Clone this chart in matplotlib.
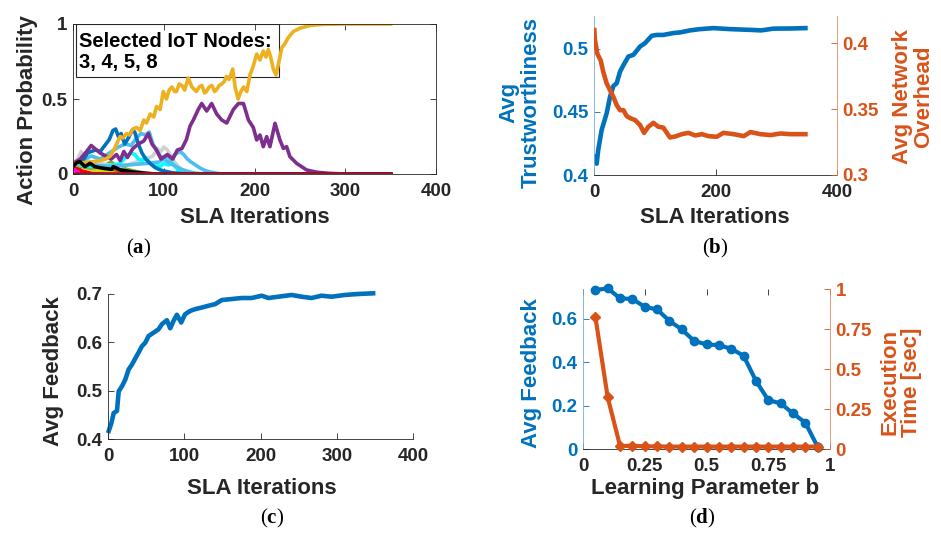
import matplotlib
matplotlib.use("Agg")
import matplotlib.pyplot as plt
from matplotlib.patches import Rectangle

plt.rcParams['font.family'] = ['Liberation Sans', 'DejaVu Sans']
plt.rcParams['font.weight'] = 'bold'
plt.rcParams['axes.labelweight'] = 'bold'
plt.rcParams['mathtext.fontset'] = 'custom'
plt.rcParams['mathtext.rm'] = 'Liberation Serif'
plt.rcParams['mathtext.bf'] = 'Liberation Serif:bold'

# ---------------- data (a): action probabilities per node ----------------
yellow_x = [0, 10, 20, 30, 36, 41, 45, 48, 52, 55, 59, 62, 66, 70, 74, 78, 81, 85, 89, 92, 96, 99.5,
            103, 106, 109, 112, 114, 117, 120, 123, 127, 131, 136, 139, 142, 145, 147, 150, 153, 156,
            158, 161, 164, 167, 169, 172, 176, 178.6, 182, 185, 188, 191.5, 195, 198.7, 202.4, 206,
            209.7, 212.7, 215.2, 217.8, 220.7, 223.7, 227.3, 230, 233.6, 237.3, 242.8, 250, 261, 276,
            300, 350]
yellow_y = [0.07, 0.075, 0.08, 0.09, 0.1, 0.12, 0.16, 0.2, 0.25, 0.24, 0.27, 0.26, 0.3, 0.31, 0.29,
            0.36, 0.34, 0.4, 0.38, 0.45, 0.43, 0.55, 0.5, 0.56, 0.58, 0.55, 0.55, 0.6, 0.59, 0.56, 0.64,
            0.58, 0.55, 0.58, 0.59, 0.54, 0.55, 0.58, 0.59, 0.55, 0.56, 0.59, 0.6, 0.62, 0.65, 0.63,
            0.7, 0.58, 0.5, 0.55, 0.58, 0.55, 0.66, 0.72, 0.8, 0.76, 0.82, 0.78, 0.83, 0.78, 0.7, 0.66,
            0.76, 0.84, 0.87, 0.91, 0.95, 0.972, 0.99, 0.998, 1.0, 1.0]

purple_x = [0, 8, 15, 20, 24, 30, 36, 42, 48, 52, 56, 60, 66, 72, 78, 83, 87, 92, 97, 104, 110, 115,
            120, 125, 129, 132.6, 138, 141.8, 147.3, 152.8, 158.3, 163.9, 169.4, 176.7, 182.3, 187.8,
            193.3, 198.7, 202.4, 206, 209.7, 213.4, 217, 222.6, 228, 231.8, 235.4, 239, 246.4, 257.4,
            268.5, 283, 300, 350]
purple_y = [0.07, 0.1, 0.15, 0.19, 0.17, 0.14, 0.12, 0.1, 0.13, 0.09, 0.15, 0.11, 0.17, 0.2, 0.22,
            0.27, 0.2, 0.16, 0.1, 0.13, 0.1, 0.16, 0.17, 0.23, 0.32, 0.36, 0.43, 0.47, 0.42, 0.47, 0.40,
            0.36, 0.34, 0.43, 0.47, 0.47, 0.36, 0.31, 0.227, 0.26, 0.182, 0.249, 0.182, 0.338, 0.227,
            0.171, 0.182, 0.116, 0.071, 0.027, 0.012, 0.004, 0.0, 0.0]

blue_x = [0, 8, 12, 16, 20, 25, 30, 35, 40, 44, 47, 50, 53, 57, 61, 65, 68, 72, 76, 80, 85, 90, 95,
          100, 110, 120, 130, 350]
blue_y = [0.07, 0.08, 0.1, 0.14, 0.15, 0.16, 0.15, 0.19, 0.23, 0.29, 0.3, 0.25, 0.27, 0.2, 0.24, 0.29,
          0.28, 0.2, 0.14, 0.1, 0.07, 0.045, 0.03, 0.02, 0.008, 0.002, 0.0, 0.0]

lblue1_x = [0, 10, 20, 30, 40, 50, 58, 64, 70, 75, 80, 84, 88, 92, 96, 100, 105, 110, 115, 120, 128,
            135, 145, 350]
lblue1_y = [0.07, 0.09, 0.12, 0.1, 0.14, 0.18, 0.2, 0.19, 0.24, 0.27, 0.26, 0.28, 0.2, 0.16, 0.12, 0.1,
            0.08, 0.06, 0.045, 0.03, 0.015, 0.005, 0.0, 0.0]

lblue2_x = [0, 20, 40, 60, 80, 95, 100, 105, 108, 112, 118, 122, 126, 130, 135, 140, 145, 150, 158,
            165, 350]
lblue2_y = [0.07, 0.06, 0.05, 0.06, 0.07, 0.08, 0.1, 0.12, 0.09, 0.13, 0.15, 0.13, 0.1, 0.08, 0.06,
            0.04, 0.025, 0.015, 0.005, 0.0, 0.0]

gray_x = [0, 5, 9, 13, 20, 30, 40, 50, 60, 70, 80, 88, 93, 97, 100, 104, 108, 112, 116, 120, 126, 135,
          145, 350]
gray_y = [0.07, 0.1, 0.15, 0.1, 0.08, 0.07, 0.06, 0.05, 0.06, 0.08, 0.1, 0.12, 0.17, 0.15, 0.18, 0.16,
          0.12, 0.08, 0.05, 0.03, 0.015, 0.003, 0.0, 0.0]

cyan_x = [0, 15, 30, 45, 52, 56, 60, 64, 68, 72, 76, 80, 84, 90, 96, 100, 105, 110, 113, 116, 120,
          125, 350]
cyan_y = [0.07, 0.05, 0.05, 0.06, 0.07, 0.1, 0.12, 0.14, 0.13, 0.1, 0.09, 0.11, 0.08, 0.06, 0.05,
          0.07, 0.06, 0.07, 0.05, 0.02, 0.005, 0.0, 0.0]

black_x = [0, 4, 7.7, 13.2, 18.7, 24, 33.4, 42.6, 44.4, 52, 66.5, 80, 90, 350]
black_y = [0.05, 0.076, 0.082, 0.049, 0.071, 0.049, 0.038, 0.031, 0.049, 0.027, 0.013, 0.005, 0.0, 0.0]

orange_x = [0, 10, 14, 18, 22, 28, 35, 45, 55, 65, 75, 350]
orange_y = [0.07, 0.06, 0.08, 0.06, 0.075, 0.06, 0.05, 0.03, 0.015, 0.005, 0.0, 0.0]

green_x = [0, 10, 20, 30, 36, 42, 46, 52, 60, 70, 80, 90, 350]
green_y = [0.07, 0.05, 0.04, 0.05, 0.06, 0.08, 0.06, 0.045, 0.03, 0.015, 0.005, 0.0, 0.0]

lime_x = [0, 20, 40, 60, 70, 80, 350]
lime_y = [0.07, 0.03, 0.02, 0.015, 0.005, 0.0, 0.0]

magenta_x = [0, 2, 5, 10, 350]
magenta_y = [0.07, 0.03, 0.01, 0.0, 0.0]

red_x = [0, 5, 10, 20, 30, 350]
red_y = [0.07, 0.04, 0.02, 0.005, 0.0, 0.0]

darkred_x = [0, 350]
darkred_y = [0.0, 0.0]

selected_nodes = "3, 4, 5, 8"

# ---------------- data (b) ----------------
trust_x = [1.6, 4.4, 7, 12.6, 20.9, 26.4, 31.9, 37.4, 42.9, 48.4, 56.6, 64.8, 75.8, 84, 95, 103, 114,
           130.7, 141.7, 158, 174.7, 196.6, 224, 257, 275, 295.6, 323, 348]
trust_y = [0.4145, 0.409, 0.420, 0.4357, 0.449, 0.462, 0.4705, 0.4728, 0.482, 0.487, 0.4939, 0.4952,
           0.5018, 0.5045, 0.5103, 0.511, 0.511, 0.5125, 0.513, 0.5146, 0.5156, 0.5164, 0.5156,
           0.515, 0.5146, 0.516, 0.5161, 0.5164]

overhead_x = [0.5, 1.6, 5.5, 11, 15.4, 20.9, 26.4, 31.9, 37.4, 42.9, 48.4, 53.9, 59.4, 67.6, 75.8,
              82.4, 89.5, 97.8, 106, 114, 125, 133.5, 144.5, 155.5, 166.5, 177.5, 188.5, 202, 213,
              230, 246.5, 257.5, 274, 290.6, 307, 323.5, 348]
overhead_y = [0.410, 0.4023, 0.392, 0.387, 0.378, 0.3695, 0.3644, 0.3593, 0.353, 0.3492, 0.3492,
              0.3447, 0.3432, 0.3417, 0.3379, 0.332, 0.3366, 0.3396, 0.3366, 0.336, 0.3285, 0.3292,
              0.331, 0.332, 0.330, 0.331, 0.3295, 0.329, 0.332, 0.331, 0.3295, 0.3326, 0.331, 0.3303,
              0.3315, 0.331, 0.331]

# ---------------- data (c) ----------------
feedback_x = [1, 4.4, 7.4, 11.8, 14, 18.3, 22.7, 27, 31.4, 35.8, 40, 44.5, 48.9, 53.2, 59.8, 66.3,
              70.7, 77.2, 81.6, 86, 90.3, 96, 101, 107.8, 114.3, 123, 131.8, 140.5, 149.2, 162.3,
              175.4, 188.5, 201.6, 210.3, 223.4, 240.8, 254, 267, 280, 293, 310.6, 328, 347.7]
feedback_y = [0.4167, 0.4326, 0.4535, 0.4583, 0.4986, 0.509, 0.523, 0.5438, 0.554, 0.5667, 0.5785,
              0.592, 0.5993, 0.613, 0.62, 0.627, 0.6375, 0.6458, 0.629, 0.6444, 0.657, 0.641, 0.658,
              0.665, 0.6687, 0.672, 0.6757, 0.679, 0.6875, 0.6896, 0.6917, 0.6917, 0.6965, 0.6917,
              0.6944, 0.698, 0.6944, 0.6917, 0.6965, 0.6944, 0.698, 0.700, 0.7014]

# ---------------- data (d) ----------------
b_values = [0.05, 0.10, 0.15, 0.20, 0.25, 0.30, 0.35, 0.40, 0.45, 0.50, 0.55, 0.60, 0.65, 0.70, 0.75,
            0.80, 0.85, 0.90, 0.95]
b_feedback = [0.731, 0.739, 0.693, 0.690, 0.654, 0.642, 0.589, 0.550, 0.497, 0.481, 0.478, 0.461,
              0.429, 0.314, 0.225, 0.210, 0.164, 0.121, 0.010]
b_exec_time = [0.827, 0.323, 0.019, 0.02, 0.017, 0.016, 0.015, 0.015, 0.015, 0.015, 0.015, 0.015,
               0.015, 0.015, 0.015, 0.015, 0.015, 0.015, 0.015]

# tick values / labels
ticks_a_x = [0, 100, 200, 300, 400]
ticks_a_y = [0, 0.5, 1]
labels_a_y = ['0', '0.5', '1']
ticks_b_x = [0, 200, 400]
ticks_b_yl = [0.4, 0.45, 0.5]
labels_b_yl = ['0.4', '0.45', '0.5']
ticks_b_yr = [0.3, 0.35, 0.4]
labels_b_yr = ['0.3', '0.35', '0.4']
ticks_c_x = [0, 100, 200, 300, 400]
ticks_c_y = [0.4, 0.5, 0.6, 0.7]
labels_c_y = ['0.4', '0.5', '0.6', '0.7']
ticks_d_x = [0, 0.25, 0.5, 0.75, 1]
labels_d_x = ['0', '0.25', '0.5', '0.75', '1']
ticks_d_yl = [0, 0.2, 0.4, 0.6]
labels_d_yl = ['0', '0.2', '0.4', '0.6']
ticks_d_yr = [0, 0.25, 0.5, 0.75, 1]
labels_d_yr = ['0', '0.25', '0.5', '0.75', '1']

# ---------------- styling ----------------
W, H = 941, 537
C_TXT = (0.15, 0.15, 0.15)
C_BLUE = (0.0, 0.447, 0.741)
C_ORANGE = (0.85, 0.325, 0.098)
TICK_FS = 13.5
LAB_FS = 16
BOLD = dict(fontweight='bold', fontsize=TICK_FS)

fig = plt.figure(figsize=(W / 100, H / 100), dpi=100)


def px_axes(l, r, t, b):
    return fig.add_axes([l / W, 1 - b / H, (r - l) / W, (b - t) / H])


def style(ax, top=False, right=False):
    ax.tick_params(direction='in', length=4, width=0.6, colors=C_TXT, labelsize=TICK_FS,
                   top=top, right=right)
    ax.tick_params(axis='x', pad=6.5)
    ax.tick_params(axis='y', pad=4)
    for s in ax.spines.values():
        s.set_color(C_TXT)
        s.set_linewidth(0.6)


# ---------------- panel (a) ----------------
axa = px_axes(73, 436, 24, 174)
style(axa, top=True, right=True)
series = [
    (magenta_x, magenta_y, (1, 0, 1)),
    (red_x, red_y, (1, 0, 0)),
    (lime_x, lime_y, (0.85, 0.85, 0.0)),
    (orange_x, orange_y, C_ORANGE),
    (green_x, green_y, (0.466, 0.674, 0.188)),
    (gray_x, gray_y, (0.82, 0.82, 0.82)),
    (cyan_x, cyan_y, (0, 1, 1)),
    (lblue2_x, lblue2_y, (0.301, 0.745, 0.933)),
    (lblue1_x, lblue1_y, (0.301, 0.745, 0.933)),
    (blue_x, blue_y, C_BLUE),
    (purple_x, purple_y, (0.494, 0.184, 0.556)),
    (yellow_x, yellow_y, (0.929, 0.694, 0.125)),
    (black_x, black_y, (0, 0, 0)),
    (darkred_x, darkred_y, (0.635, 0.078, 0.184)),
]
for i, (xs, ys, c) in enumerate(series):
    axa.plot(xs, ys, color=c, lw=2.6, zorder=2 + i * 0.01, solid_joinstyle='round')
axa.set_xlim(0, 400)
axa.set_ylim(0, 1)
axa.set_xticks(ticks_a_x)
axa.set_xticklabels([str(v) for v in ticks_a_x], **BOLD)
axa.set_yticks(ticks_a_y)
axa.set_yticklabels(labels_a_y, **BOLD)
axa.set_xlabel('SLA Iterations', fontsize=LAB_FS, color=C_TXT, va='center', fontweight='bold')
axa.xaxis.set_label_coords(0.5014, -0.2933)
axa.set_ylabel('Action Probability', fontsize=LAB_FS, color=C_TXT, va='center', fontweight='bold')
axa.yaxis.set_label_coords(-0.1267, 0.4267)
axa.add_patch(Rectangle((0.0083, 0.6487), 0.5597, 0.3513, transform=axa.transAxes,
                        facecolor='white', edgecolor=C_TXT, lw=0.8, zorder=1))
axa.text(0.0165, 0.8487, 'Selected IoT Nodes:', transform=axa.transAxes, fontsize=14.5,
         color='black', va='baseline', ha='left', zorder=5, fontweight='bold')
axa.text(0.0165, 0.7047, selected_nodes, transform=axa.transAxes, fontsize=14.5,
         color='black', va='baseline', ha='left', zorder=5, fontweight='bold')

# ---------------- panel (b) ----------------
axb = px_axes(594, 837, 16, 175)
style(axb)
axb.tick_params(axis='y', colors=C_BLUE)
axb.plot(trust_x, trust_y, color=C_BLUE, lw=3.3)
axb.set_xlim(0, 400)
axb.set_ylim(0.4, 0.526)
axb.set_xticks(ticks_b_x)
axb.set_xticklabels([str(v) for v in ticks_b_x], **BOLD)
axb.set_yticks(ticks_b_yl)
axb.set_yticklabels(labels_b_yl, **BOLD)
axb.spines['top'].set_visible(False)
axb.spines['right'].set_visible(False)
axb.spines['left'].set_color((0.45, 0.68, 0.88))
axb.set_xlabel('SLA Iterations', fontsize=LAB_FS, color=C_TXT, va='center', fontweight='bold')
axb.xaxis.set_label_coords(0.498, -0.2704)
axb.set_ylabel('Avg\nTrustworthiness', fontsize=LAB_FS, color=C_BLUE, va='center',
               linespacing=1.05, fontweight='bold')
axb.yaxis.set_label_coords(-0.3045, 0.459)
axb2 = axb.twinx()
style(axb2, right=True)
axb2.tick_params(axis='y', colors=C_ORANGE)
axb2.plot(overhead_x, overhead_y, color=C_ORANGE, lw=3.3)
axb2.set_ylim(0.3, 0.4207)
axb2.set_yticks(ticks_b_yr)
axb2.set_yticklabels(labels_b_yr, **BOLD)
for s in ['top', 'left', 'bottom']:
    axb2.spines[s].set_visible(False)
axb2.spines['right'].set_color((0.9, 0.55, 0.4))
axb2.set_ylabel('Avg Network\nOverhead', fontsize=LAB_FS, color=C_ORANGE, va='center',
                rotation=90, linespacing=1.05, fontweight='bold')
axb2.yaxis.set_label_coords(1.3128, 0.4937)

# ---------------- panel (c) ----------------
axc = px_axes(108, 413, 294, 439)
style(axc)
axc.plot(feedback_x, feedback_y, color=C_BLUE, lw=3.3, clip_on=False)
axc.set_xlim(0, 400)
axc.set_ylim(0.4, 0.7)
axc.set_xticks(ticks_c_x)
axc.set_xticklabels([str(v) for v in ticks_c_x], **BOLD)
axc.set_yticks(ticks_c_y)
axc.set_yticklabels(labels_c_y, **BOLD)
axc.spines['top'].set_visible(False)
axc.spines['right'].set_visible(False)
axc.set_xlabel('SLA Iterations', fontsize=LAB_FS, color=C_TXT, va='center', fontweight='bold')
axc.xaxis.set_label_coords(0.505, -0.338)
axc.set_ylabel('Avg Feedback', fontsize=LAB_FS, color=C_TXT, va='center', fontweight='bold')
axc.yaxis.set_label_coords(-0.1803, 0.469)

# ---------------- panel (d) ----------------
axd = px_axes(583, 830, 289, 449)
style(axd, top=True)
axd.tick_params(axis='y', colors=C_BLUE)
axd.plot(b_values, b_feedback, color=C_BLUE, lw=3.0, marker='o', ms=6, clip_on=False)
axd.set_xlim(0, 1)
axd.set_ylim(0, 0.736)
axd.set_xticks(ticks_d_x)
axd.set_xticklabels(labels_d_x, **BOLD)
axd.set_yticks(ticks_d_yl)
axd.set_yticklabels(labels_d_yl, **BOLD)
axd.spines['top'].set_visible(False)
axd.spines['right'].set_visible(False)
axd.spines['left'].set_color((0.45, 0.68, 0.88))
axd.set_xlabel('Learning Parameter b', fontsize=LAB_FS, color=C_TXT, va='center', fontweight='bold')
axd.xaxis.set_label_coords(0.494, -0.244)
axd.set_ylabel('Avg Feedback', fontsize=LAB_FS, color=C_BLUE, va='center', fontweight='bold')
axd.yaxis.set_label_coords(-0.2077, 0.475)
axd2 = axd.twinx()
style(axd2, right=True)
axd2.tick_params(axis='y', colors=C_ORANGE)
axd2.plot(b_values, b_exec_time, color=C_ORANGE, lw=3.0, marker='D', ms=5, clip_on=False)
axd2.set_ylim(0, 1)
axd2.set_yticks(ticks_d_yr)
axd2.set_yticklabels(labels_d_yr, **BOLD)
for s in ['top', 'left', 'bottom']:
    axd2.spines[s].set_visible(False)
axd2.spines['right'].set_color((0.9, 0.55, 0.4))
axd2.set_ylabel('Execution\nTime [sec]', fontsize=LAB_FS, color=C_ORANGE, va='center',
                rotation=90, linespacing=1.05, fontweight='bold')
axd2.yaxis.set_label_coords(1.2874, 0.419)

# ---------------- captions ----------------
for lab, x, y in [('a', 139, 248), ('b', 715, 248), ('c', 272, 518), ('d', 702, 518)]:
    fig.text(x / W, 1 - y / H, '(' + r'$\mathbf{' + lab + '}$' + ')', fontsize=15,
             family='Liberation Serif', weight='normal', ha='center', va='center', color='black')

fig.savefig('out.png', dpi=100)
